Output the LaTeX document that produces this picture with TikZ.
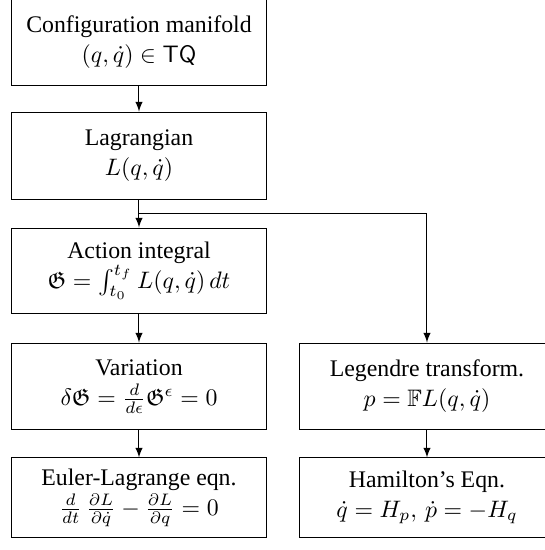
\documentclass[tikz,border=0pt]{standalone}
\usepackage{amssymb}
\usepackage[no-math]{fontspec}
\setmainfont{Liberation Serif}
\usetikzlibrary{calc}

\tikzset{
  stage/.style={draw, line width=0.42pt, inner sep=0pt, align=center,
    minimum width=107.1pt, font=\fontsize{10pt}{12.6pt}\selectfont},
  flow/.style={draw, line width=0.42pt, -latex},
}

\begin{document}
\begin{tikzpicture}[x=0.42pt, y=-0.42pt]
  \useasboundingbox (0,0) rectangle (545,550);

  % left column: Lagrangian mechanics
  \node[stage, minimum height=36.1pt] (conf) at (139,42.5)
    {Configuration manifold\\ $(q,\dot q)\in \mathsf{TQ}$};
  \node[stage, minimum height=36.9pt] (lag) at (139,156)
    {Lagrangian\\ $L(q,\dot q)$};
  \node[stage, minimum height=35.7pt] (act) at (139,270.5)
    {Action integral\\ $\mathfrak{G}=\int_{t_0}^{t_f} L(q,\dot q)\,dt$};
  \node[stage, minimum height=36.5pt] (var) at (139,386.5)
    {Variation\\ $\delta\mathfrak{G}=\frac{d}{d\epsilon}\mathfrak{G}^{\epsilon}=0$};
  \node[stage, minimum height=33.2pt] (el) at (139,497.5)
    {Euler-Lagrange eqn.\\ $\frac{d}{dt}\,\frac{\partial L}{\partial \dot q}-\frac{\partial L}{\partial q}=0$};

  % right column: Hamiltonian mechanics
  \node[stage, minimum height=36.5pt] (leg) at (427,386.5)
    {Legendre transform.\\ $p=\mathbb{F}L(q,\dot q)$};
  \node[stage, minimum height=33.2pt] (ham) at (427,497.5)
    {Hamilton's Eqn.\\ $\dot q=H_p,\,\dot p=-H_q$};

  % connectors
  \draw[flow] (conf) -- (lag);
  \coordinate (split) at ($(lag.south)!0.5!(act.north)$);
  \draw[flow] (lag) -- (act);
  \draw[flow] (split) -| (leg.north);
  \draw[flow] (act) -- (var);
  \draw[flow] (var) -- (el);
  \draw[flow] (leg) -- (ham);
\end{tikzpicture}
\end{document}
